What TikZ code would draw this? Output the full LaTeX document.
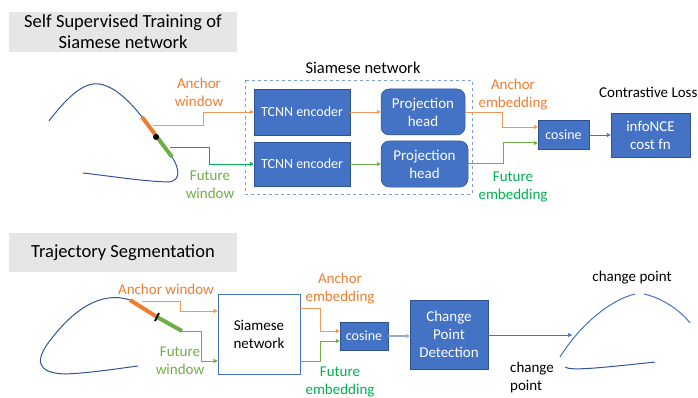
\documentclass[tikz,border=0pt]{standalone}
\usepackage{fontspec}
\setmainfont{Carlito}
\usetikzlibrary{arrows.meta}
\definecolor{boxblue}{HTML}{4472C4}
\definecolor{edgeblue}{HTML}{2F528F}
\definecolor{curveblue}{HTML}{2F5597}
\definecolor{ancorange}{HTML}{ED7D31}
\definecolor{futgreen}{HTML}{70AD47}
\definecolor{embgreen}{HTML}{00B050}
\definecolor{titlegray}{HTML}{E7E6E6}
\definecolor{dashblue}{HTML}{7F9FD3}
\begin{document}
\begin{tikzpicture}[x=1pt, y=-1pt,
    >={Triangle[length=4pt,width=4pt]},
    bluebox/.style={fill=boxblue, draw=edgeblue, line width=0.5pt, text=white, align=center, inner sep=0pt, font=\fontsize{15}{18}\selectfont},
    titlebox/.style={fill=titlegray, inner sep=0pt, align=center, font=\fontsize{18.5}{21}\selectfont},
    lbl/.style={align=center, inner sep=0pt, font=\fontsize{15}{18}\selectfont},
    anc/.style={ancorange!80, line width=0.6pt},
    fut/.style={futgreen, line width=0.6pt}]
    \useasboundingbox (0,0) rectangle (698,398);

    % --- self supervised training
    \node[titlebox, minimum width=228, minimum height=40] (title1) at (123,32) {Self Supervised Training of\\Siamese network};

    \draw[curveblue, line width=1pt] (49,121) .. controls (68,96) and (84,82) .. (99,84)
        .. controls (115,86) and (131,103) .. (142,117) -- (172,157)
        .. controls (178,166) and (183,181) .. (168,182)
        .. controls (140,181) and (110,176) .. (83,173);
    \draw[ancorange, line width=4pt] (142,117) -- (157,137);
    \draw[futgreen, line width=4pt] (157,137) -- (172,157);
    \fill (156,137) circle (3);
    \coordinate (anc1) at (153,125);
    \coordinate (fut1) at (170,147);

    \node[lbl, text=ancorange] (ancwin1) at (199,92) {Anchor\\window};
    \node[lbl, text=futgreen] (futwin1) at (210,185) {Future\\window};

    \draw[dashblue, dashed, line width=0.7pt] (245,80) rectangle (472,194);
    \node[lbl, font=\fontsize{16.5}{19}\selectfont] (siamlbl) at (363,68) {Siamese network};

    \node[bluebox, minimum width=96, minimum height=46, font=\fontsize{14}{17}\selectfont] (enc1) at (302,112) {TCNN encoder};
    \node[bluebox, minimum width=96, minimum height=44, font=\fontsize{14}{17}\selectfont] (enc2) at (302,164) {TCNN encoder};
    \node[bluebox, rounded corners=8pt, minimum width=84, minimum height=46] (proj1) at (423,112) {Projection\\head};
    \node[bluebox, rounded corners=8pt, minimum width=87, minimum height=46] (proj2) at (424.5,164) {Projection\\head};

    \draw[anc, ->] (anc1) -- ++(50,0) |- (enc1.west);
    \draw[embgreen, line width=0.6pt, ->] (fut1) -- ++(39,0) |- (enc2.west);
    \draw[anc, ->] (enc1) -- (proj1);
    \draw[fut, ->] (enc2) -- (proj2);

    \node[bluebox, minimum width=51, minimum height=29, font=\fontsize{14}{17}\selectfont] (cos1) at (563.5,135) {cosine};
    \node[lbl, text=ancorange] (ancemb1) at (513,95) {Anchor\\embedding};
    \node[lbl, text=embgreen] (futemb1) at (513,187) {Future\\embedding};
    \draw[anc, ->] (proj1.east) -- ++(37,0) |- ([yshift=8pt]cos1.west);
    \draw[fut, line width=1pt, ->] (proj2.east) -- ++(35,0) |- ([yshift=-8pt]cos1.west);

    \node[bluebox, minimum width=79, minimum height=44] (info) at (650.5,135) {infoNCE\\cost fn};
    \node[lbl, anchor=west] (contr) at (599,92) {Contrastive Loss};
    \draw[boxblue, line width=0.6pt, ->] (cos1) -- (info);

    % --- trajectory segmentation
    \node[titlebox, minimum width=228, minimum height=39] (title2) at (123,252.5) {Trajectory Segmentation};

    \draw[curveblue, line width=1pt] (130,300) .. controls (100,290) and (72,312) .. (52,338)
        .. controls (34,360) and (36,373) .. (65,374)
        .. controls (90,373) and (115,369) .. (138,366);
    \draw[ancorange, line width=4pt] (130,300) -- (157,317);
    \draw[futgreen, line width=4pt] (157,317) -- (182,331);
    \draw[black, line width=2pt] (155,321) -- (159,313);
    \coordinate (anc2) at (142,301);
    \coordinate (fut2) at (182,331);

    \node[lbl, text=ancorange] (ancwin2) at (166,289) {Anchor window};
    \node[lbl, text=futgreen] (futwin2) at (180,361) {Future\\window};

    \node[draw=boxblue, fill=white, line width=0.7pt, lbl, minimum width=82, minimum height=80] (siam) at (259,334) {Siamese\\network};
    \draw[anc, ->] (anc2) -- ++(38,0) |- ([yshift=23pt]siam.west);
    \draw[fut, ->] (fut2) -- ++(19,0) |- ([yshift=-27pt]siam.west);

    \node[bluebox, minimum width=48, minimum height=28, font=\fontsize{14}{17}\selectfont] (cos2) at (364,336) {cosine};
    \node[lbl, text=ancorange] (ancemb2) at (340,289) {Anchor\\embedding};
    \node[lbl, text=embgreen] (futemb2) at (340,382) {Future\\embedding};
    \draw[anc, ->] ([yshift=26pt]siam.east) -- ++(20,0) |- ([yshift=5pt]cos2.west);
    \draw[fut, line width=1pt, ->] ([yshift=-27pt]siam.east) -- ++(20,0) |- ([yshift=-5pt]cos2.west);

    \node[bluebox, minimum width=78, minimum height=69] (cpd) at (449,334.5) {Change\\Point\\Detection};
    \draw[boxblue!60, line width=1.2pt, ->] (cos2.east) -- (cos2.east -| cpd.west);
    \coordinate (cpend) at (572,335);
    \draw[boxblue, line width=0.6pt, ->] (cpd.east |- cpend) -- (cpend);

    \draw[boxblue, line width=1pt] (560,357) .. controls (580,325) and (610,300) .. (635,294);
    \draw[boxblue, line width=1pt] (644,294) .. controls (662,298) and (680,310) .. (690,323);
    \draw[curveblue, line width=1pt] (565,367) .. controls (570,371) and (600,368) .. (655,362);
    \node[lbl] (cp1) at (632,278) {change point};
    \node[lbl, align=left, anchor=north west] (cp2) at (510,362) {change\\point};
\end{tikzpicture}
\end{document}
